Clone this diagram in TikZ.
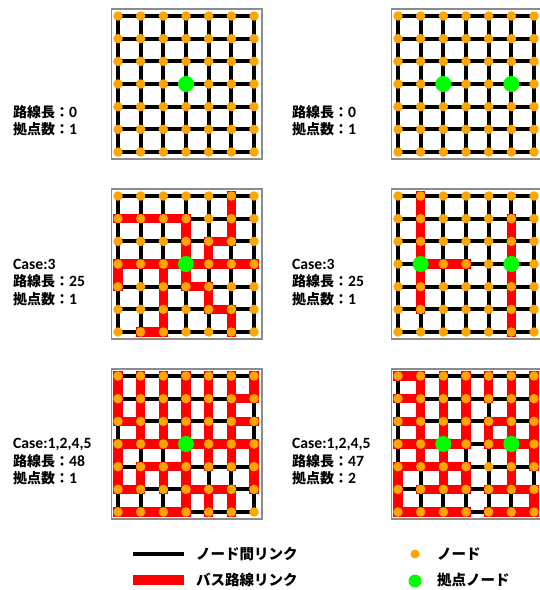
\documentclass[tikz,border=0pt]{standalone}
\usepackage{fontspec}
\setmainfont{Carlito}[Scale=1.12]
\newfontfamily\jpfont{Noto Sans CJK JP}
\usetikzlibrary{positioning}
\definecolor{busRed}{HTML}{FF0000}
\definecolor{nodeOrange}{HTML}{FFA500}
\definecolor{hubGreen}{HTML}{00FF00}
\definecolor{boxGray}{HTML}{8C8C8C}
\newcommand\jp[1]{{\jpfont #1}}
\tikzset{
  gridLink/.style={line width=3.8,draw=black},
  busLink/.style={line width=9.5,draw=busRed,line cap=rect},
  gridNode/.style={circle,fill=nodeOrange,inner sep=0pt,minimum size=9.5},
  hubNode/.style={circle,fill=hubGreen,inner sep=0pt,minimum size=16},
  panelBox/.style={draw=boxGray,line width=1.3},
  panelLabel/.style={anchor=west,align=left,inner sep=0pt,
    font=\bfseries\fontsize{14}{17.5}\selectfont},
  legendText/.style={anchor=west,inner sep=0pt,
    font=\jpfont\bfseries\fontsize{14.5}{16}\selectfont}
}
% one 7x7 panel: name, top-left node, hubs, bus links
\newcommand\drawPanel[5]{%
  \begin{scope}[shift={(#2,#3)}]
    \draw[panelBox] (-6.5,-7) rectangle (144,143);
    \foreach \c in {0,...,6}
      \foreach \r in {0,...,6}
        \coordinate (#1-\c-\r) at ({22.67*\c},{22.67*\r});
    \foreach \k in {0,...,6}{
      \draw[gridLink] (#1-0-\k) -- (#1-6-\k);
      \draw[gridLink] (#1-\k-0) -- (#1-\k-6);
    }
    \if\relax\detokenize{#5}\relax\else
      \foreach \from/\to in {#5}
        \draw[busLink] (#1-\from) -- (#1-\to);
    \fi
    \foreach \c in {0,...,6}
      \foreach \r in {0,...,6}
        \node[gridNode] (#1n\c\r) at (#1-\c-\r) {};
    \foreach \h in {#4}
      \node[hubNode] (#1hub\h) at (#1-\h) {};
  \end{scope}}
\begin{document}
\begin{tikzpicture}[x=1pt,y=-1pt]
\useasboundingbox (0,0) rectangle (540,590);
\fill[white] (0,0) rectangle (540,590);
% row 1
\drawPanel{pa}{118}{16}{3-3}{}
\drawPanel{pb}{398}{16}{2-3,5-3}{}
\node[panelLabel] (infoA) at (13,120.5) {\jp{路線長：}0\\\jp{拠点数：}1};
\node[panelLabel] (infoB) at (292,120.5) {\jp{路線長：}0\\\jp{拠点数：}1};
% row 2
\drawPanel{pc}{118}{196}{3-3}{0-1/3-1,3-1/3-3,5-0/5-2,4-2/5-2,4-2/4-3,
  0-3/6-3,0-3/0-4,2-3/2-6,1-6/2-6,3-3/3-4,3-4/4-4,4-4/4-5,4-5/5-5,5-5/5-6}
\drawPanel{pd}{398}{196}{1-3,5-3}{1-0/1-5,1-3/3-3,5-1/5-6}
\node[panelLabel] (infoC) at (13,282.5) {Case:3\\\jp{路線長：}25\\\jp{拠点数：}1};
\node[panelLabel] (infoD) at (292,282.5) {Case:3\\\jp{路線長：}25\\\jp{拠点数：}1};
% row 3
\drawPanel{pe}{118}{376}{3-3}{0-0/0-2,0-3/0-5,1-0/1-3,1-4/1-5,2-0/2-3,2-4/2-5,
  3-0/3-6,4-0/4-4,4-5/4-6,5-0/5-4,5-5/5-6,6-0/6-1,6-3/6-5,
  5-1/6-1,0-2/1-2,5-2/6-2,0-3/6-3,1-4/3-4,0-5/1-5,3-5/5-5,0-6/3-6}
\drawPanel{pf}{398}{376}{2-3,5-3}{0-4/0-6,1-0/1-4,2-0/2-5,3-0/3-3,3-4/3-5,
  4-0/4-1,4-2/4-3,5-0/5-5,6-0/6-4,6-5/6-6,
  0-0/1-0,0-1/1-1,0-2/1-2,4-2/5-2,0-3/3-3,4-3/6-3,0-4/3-4,1-5/3-5,
  4-5/6-5,0-6/3-6,4-6/6-6}
\node[panelLabel] (infoE) at (13,462) {Case:1,2,4,5\\\jp{路線長：}48\\\jp{拠点数：}1};
\node[panelLabel] (infoF) at (292,462) {Case:1,2,4,5\\\jp{路線長：}47\\\jp{拠点数：}2};
% legend
\coordinate (lkA) at (133,554);
\coordinate (lkB) at (184,554);
\coordinate (bsA) at (133,580);
\coordinate (bsB) at (184,580);
\draw[gridLink] (lkA) -- (lkB);
\draw[busLink,line cap=butt] (bsA) -- (bsB);
\node[legendText] (lkText) at (196,554) {ノード間リンク};
\node[legendText] (bsText) at (196,580) {バス路線リンク};
\node[gridNode,minimum size=9] (lgNode) at (415,554) {};
\node[hubNode,minimum size=13] (lgHub) at (415,581) {};
\node[legendText] (ndText) at (437,554) {ノード};
\node[legendText] (hbText) at (437,580) {拠点ノード};
\end{tikzpicture}
\end{document}
